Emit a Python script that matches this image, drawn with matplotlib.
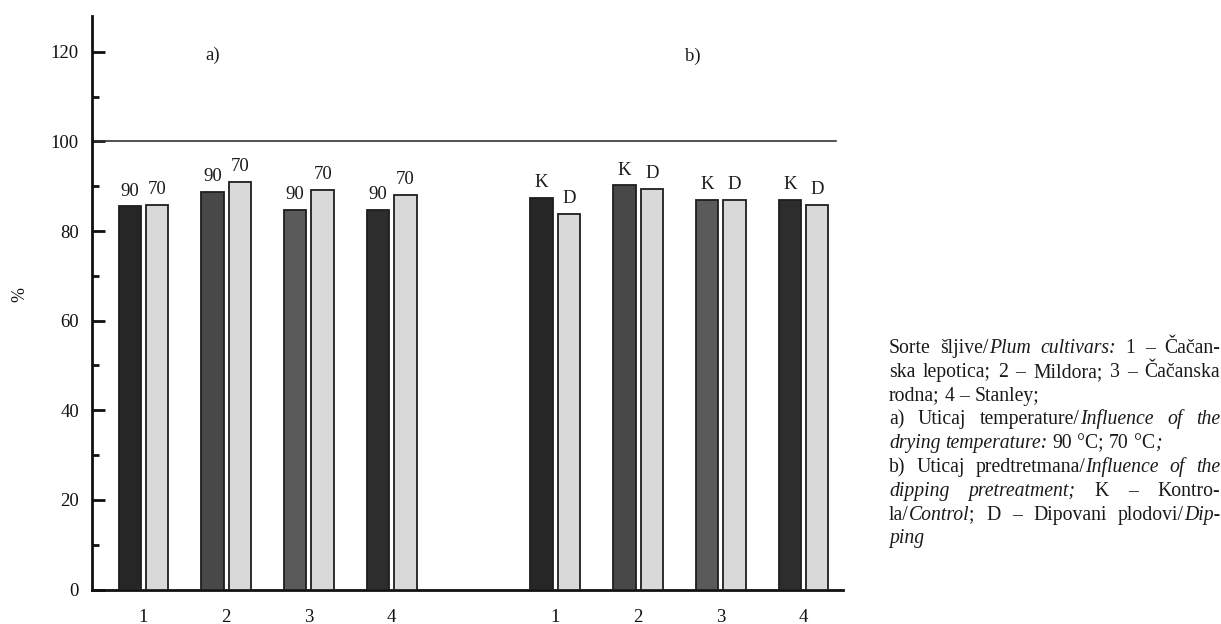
import numpy as np
import matplotlib
matplotlib.use("Agg")
import matplotlib.pyplot as plt
from matplotlib.transforms import IdentityTransform

plt.rcParams['font.family'] = ['Liberation Serif', 'DejaVu Serif']

# data (% values)
cultivars = ["1", "2", "3", "4"]
temp_90 = [85.5, 88.7, 84.7, 84.8]
temp_70 = [85.9, 91.0, 89.1, 88.0]
control_k = [87.4, 90.2, 87.0, 87.0]
dipping_d = [83.8, 89.4, 86.9, 85.8]
labels_a = ["90", "70"]
labels_b = ["K", "D"]

dark_colors = ["#262626", "#484848", "#5a5a5a", "#2d2d2d"]
light_color = "#d9d9d9"
edge_color = "#1e1e1e"

# note text, *...* marks italic, second item says if the line is justified
note_lines = [
    ("Sorte šljive/*Plum cultivars:* 1 – Čačan-", True),
    ("ska lepotica; 2 – Mildora; 3 – Čačanska", True),
    ("rodna; 4 – Stanley;", False),
    ("a) Uticaj temperature/*Influence of the*", True),
    ("*drying temperature:* 90 °C; 70 °C*;*", False),
    ("b) Uticaj predtretmana/*Influence of the*", True),
    ("*dipping pretreatment;* K – Kontro-", True),
    ("la/*Control*; D – Dipovani plodovi/*Dip-*", True),
    ("*ping*", False),
]

W, H = 1221, 624
FS = 13.5
NOTE_FS = 14.2


def parse_words(line, italic):
    words = []
    for token in line.split(" "):
        parts = []
        buf = ""
        for ch in token:
            if ch == "*":
                if buf:
                    parts.append((buf, italic))
                buf = ""
                italic = not italic
            else:
                buf += ch
        if buf:
            parts.append((buf, italic))
        words.append(parts)
    return words, italic


def draw_note(fig, lines, x0, y0, width, step):
    """Draws the justified note block, coordinates in pixels from top-left."""
    renderer = fig.canvas.get_renderer()
    ident = IdentityTransform()

    def measure(txt, it):
        t = fig.text(0, 0, txt, fontsize=NOTE_FS, style="italic" if it else "normal",
                     transform=ident, va="baseline", color="#1a1a1a")
        return t, t.get_window_extent(renderer).width

    t1, w1 = measure("a a", False)
    t2, w2 = measure("aa", False)
    space = w1 - w2
    t1.remove()
    t2.remove()

    italic = False
    for i, (line, justify) in enumerate(lines):
        words, italic = parse_words(line, italic)
        y = H - (y0 + i * step)
        placed = []
        total = 0
        for word in words:
            arts = []
            for txt, it in word:
                t, w = measure(txt, it)
                arts.append((t, w))
                total += w
            placed.append(arts)
        gaps = len(placed) - 1
        gap = (width - total) / gaps if (justify and gaps > 0) else space
        x = x0
        for arts in placed:
            for t, w in arts:
                t.set_position((x, y))
                x += w
            x += gap


fig = plt.figure(figsize=(W / 100, H / 100), dpi=100)
ax = fig.add_axes([92 / W, (H - 589.5) / H, (843 - 92) / W, (589.5 - 16) / H])

group_a = np.arange(len(cultivars))
group_b = group_a + 4.98
off = 0.166
bw = 0.27

for pos, left_vals, right_vals, labs in [(group_a, temp_90, temp_70, labels_a),
                                         (group_b, control_k, dipping_d, labels_b)]:
    ax.bar(pos - off, left_vals, bw, color=dark_colors, edgecolor=edge_color, linewidth=1.3, zorder=3)
    ax.bar(pos + off, right_vals, bw, color=light_color, edgecolor=edge_color, linewidth=1.3, zorder=3)
    for x, v in zip(pos - off, left_vals):
        ax.annotate(labs[0], (x, v), xytext=(0, 7.8), textcoords="offset points",
                    ha="center", va="baseline", fontsize=FS, color="#1a1a1a")
    for x, v in zip(pos + off, right_vals):
        ax.annotate(labs[1], (x, v), xytext=(0, 7.8), textcoords="offset points",
                    ha="center", va="baseline", fontsize=FS, color="#1a1a1a")

ax.axhline(100, xmin=0, xmax=(836 - 92) / (843 - 92), color="#333333", linewidth=1.2, zorder=2)

ax.set_xlim(-0.623, 8.458)
ax.set_ylim(0, 128)

ax.set_xticks(np.concatenate([group_a, group_b]))
ax.set_xticklabels(cultivars + cultivars)
ax.set_yticks(np.arange(0, 121, 20))
ax.set_yticks(np.arange(10, 121, 20), minor=True)

for side in ["top", "right"]:
    ax.spines[side].set_visible(False)
for side in ["left", "bottom"]:
    ax.spines[side].set_linewidth(2)
    ax.spines[side].set_color("#111111")

ax.tick_params(axis="y", which="major", direction="in", length=9, width=2,
               pad=9.4, labelsize=FS, colors="#111111")
ax.tick_params(axis="y", which="minor", direction="in", length=5, width=2, colors="#111111")
ax.tick_params(axis="x", length=0, pad=14, labelsize=FS, colors="#111111")

ax.text(0.84, 119.3, "a)", ha="center", va="center", fontsize=FS, color="#1a1a1a")
ax.text(6.64, 119.0, "b)", ha="center", va="center", fontsize=FS, color="#1a1a1a")

fig.text(20 / W, 1 - 295 / H, "%", rotation=90, ha="center", va="center", fontsize=13, color="#1a1a1a")

draw_note(fig, note_lines, 889, 353, 331, 23.8)

fig.savefig("out.png", dpi=100)
